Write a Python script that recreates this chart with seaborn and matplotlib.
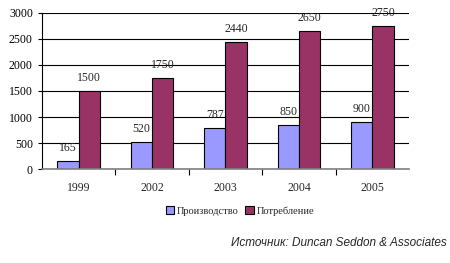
import matplotlib
matplotlib.use("Agg")
import matplotlib.pyplot as plt
import seaborn as sns
import pandas as pd
import numpy as np

years = ["1999", "2002", "2003", "2004", "2005"]
production = [165, 520, 787, 850, 900]
consumption = [1500, 1750, 2440, 2650, 2750]
series_names = ["Производство", "Потребление"]
colors = ["#9999FF", "#993366"]

df = pd.DataFrame({
    "year": years * 2,
    "value": production + consumption,
    "series": [series_names[0]] * len(years) + [series_names[1]] * len(years),
})

sns.set_style("white")
plt.rcParams["font.family"] = ["Liberation Serif", "DejaVu Serif"]

fig = plt.figure(figsize=(4.5, 2.63), dpi=100)
ax = fig.add_axes([0.093, 0.357, 0.816, 0.594])

sns.barplot(data=df, x="year", y="value", hue="series", palette=colors,
            saturation=1, width=0.58, edgecolor="black", linewidth=0.8, ax=ax, legend=True)

for cont in ax.containers:
    ax.bar_label(cont, padding=5, fontsize=8.5)

ax.set_ylim(0, 3000)
ax.set_yticks(range(0, 3001, 500))
ax.yaxis.grid(True, color="black", linewidth=0.8)
ax.set_axisbelow(True)
ax.set_xlim(-0.5, 4.5)
ax.set_xlabel("")
ax.set_ylabel("")
for s in ["top", "right"]:
    ax.spines[s].set_visible(False)
ax.spines["left"].set_color("black")
ax.spines["bottom"].set_color("gray")
ax.spines["left"].set_linewidth(0.8)
ax.spines["bottom"].set_linewidth(1.2)
ax.tick_params(axis="y", left=True, length=3, width=0.8, labelsize=8.5, colors="black")
ax.tick_params(axis="x", which="major", length=0, pad=9, labelsize=8.5)
ax.set_xticks(np.arange(0.5, 4.5, 1.0), minor=True)
ax.tick_params(axis="x", which="minor", bottom=True, length=4, width=0.8, color="black")

leg = ax.get_legend()
leg.remove()
handles = [plt.Rectangle((0, 0), 1, 1, facecolor=c, edgecolor="black", linewidth=0.8) for c in colors]
fig.legend(handles, series_names, loc="center", bbox_to_anchor=(240 / 450, 1 - 211 / 263),
           ncol=2, frameon=False, fontsize=7.5, handlelength=0.8, handleheight=0.8,
           handletextpad=0.3, columnspacing=0.6)

fig.text(447 / 450, 1 - 243 / 263, "Источник: Duncan Seddon & Associates",
         ha="right", va="center", fontsize=8.5, style="italic",
         family=["Liberation Sans", "DejaVu Sans"])

fig.savefig("out.png", dpi=100)
